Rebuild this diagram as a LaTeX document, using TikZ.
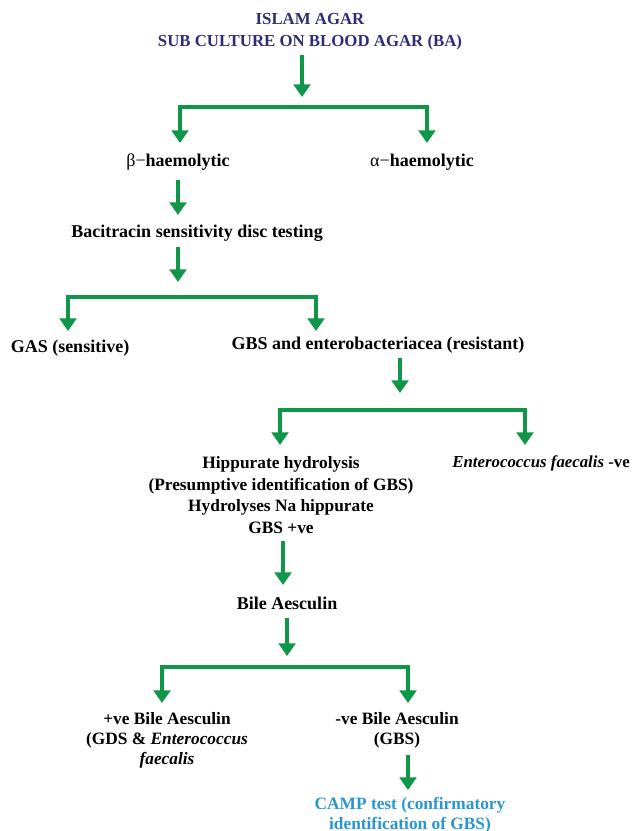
\documentclass[tikz,border=0pt]{standalone}
\usepackage{fontspec}
\setmainfont{Liberation Serif}
\usetikzlibrary{arrows.meta}
\definecolor{gr}{RGB}{16,150,72}
\definecolor{navy}{RGB}{45,45,120}
\definecolor{camp}{RGB}{40,150,210}
\begin{document}
\begin{tikzpicture}[x=0.75pt,y=-0.75pt,
  lab/.style={font=\bfseries\fontsize{13.5}{16.3}\selectfont, inner sep=0pt, align=center},
  arr/.style={draw=gr, line width=3pt, -{Triangle[width=12.5pt,length=9.5pt]}},
  brk/.style={draw=gr, line width=3pt, {Triangle[width=12.5pt,length=9.5pt]}-{Triangle[width=12.5pt,length=9.5pt]}}]
\useasboundingbox (0,0) rectangle (632,831);

\node[lab, text=navy, font=\bfseries\fontsize{12.6}{16.3}\selectfont] (title) at (310,32) {ISLAM AGAR\\SUB CULTURE ON BLOOD AGAR (BA)};
\coordinate (s1) at (302,97);
\draw[arr] (title.south -| s1) ++(0,5) -- (s1);
\coordinate (L1) at (180,143); \coordinate (M1) at (302,107); \coordinate (R1) at (427,143);
\draw[brk] (L1) |- (M1) -| (R1);

\node[lab] (beta) at (178,162) {\mdseries β−\bfseries haemolytic};
\node[lab] (alpha) at (422,162) {\mdseries α−\bfseries haemolytic};

\node[lab] (bac) at (197,233) {Bacitracin sensitivity disc testing};
\coordinate (sb) at (178,215);
\draw[arr] (beta.south -| sb) ++(0,9) -- (sb);
\coordinate (s2) at (178,282);
\draw[arr] (bac.south -| s2) ++(0,6) -- (s2);
\coordinate (L2) at (68,331); \coordinate (M2) at (178,297); \coordinate (R2) at (316,331);
\draw[brk] (L2) |- (M2) -| (R2);

\node[lab] (gas) at (70,348) {GAS (sensitive)};
\node[lab] (gbs) at (378,345) {GBS and enterobacteriacea (resistant)};
\coordinate (s3) at (400,393);
\draw[arr] (gbs.south -| s3) ++(0,5) -- (s3);
\coordinate (L3) at (280,445); \coordinate (M3) at (400,410); \coordinate (R3) at (525,445);
\draw[brk] (L3) |- (M3) -| (R3);

\node[lab, font=\bfseries\fontsize{13}{16.3}\selectfont] (hip) at (281,495) {Hippurate hydrolysis\\(Presumptive identification of GBS)\\Hydrolyses Na hippurate\\GBS +ve};
\node[lab, anchor=east, font=\bfseries\fontsize{12.6}{15}\selectfont] (ent) at (630,463) {\itshape Enterococcus faecalis\upshape\ -ve};

\node[lab] (bile) at (287,603) {Bile Aesculin};
\coordinate (s4) at (283,585);
\draw[arr] (hip.south -| s4) ++(0,7) -- (s4);
\coordinate (s5) at (287,656);
\draw[arr] (bile.south -| s5) ++(0,8) -- (s5);
\coordinate (L4) at (162,703); \coordinate (M4) at (287,667); \coordinate (R4) at (408,703);
\draw[brk] (L4) |- (M4) -| (R4);

\node[lab, font=\bfseries\fontsize{13}{15}\selectfont] (pos) at (167,740) {+ve Bile Aesculin\\(GDS \& \textit{Enterococcus}\\\textit{faecalis}};
\node[lab, font=\bfseries\fontsize{13}{15}\selectfont] (neg) at (397,730) {-ve Bile Aesculin\\(GBS)};
\coordinate (s6) at (408,790);
\draw[arr] (neg.south -| s6) ++(0,7) -- (s6);
\node[lab, text=camp, font=\bfseries\fontsize{13}{15}\selectfont] (camp) at (410,815) {CAMP test (confirmatory\\identification of GBS)};
\end{tikzpicture}
\end{document}
